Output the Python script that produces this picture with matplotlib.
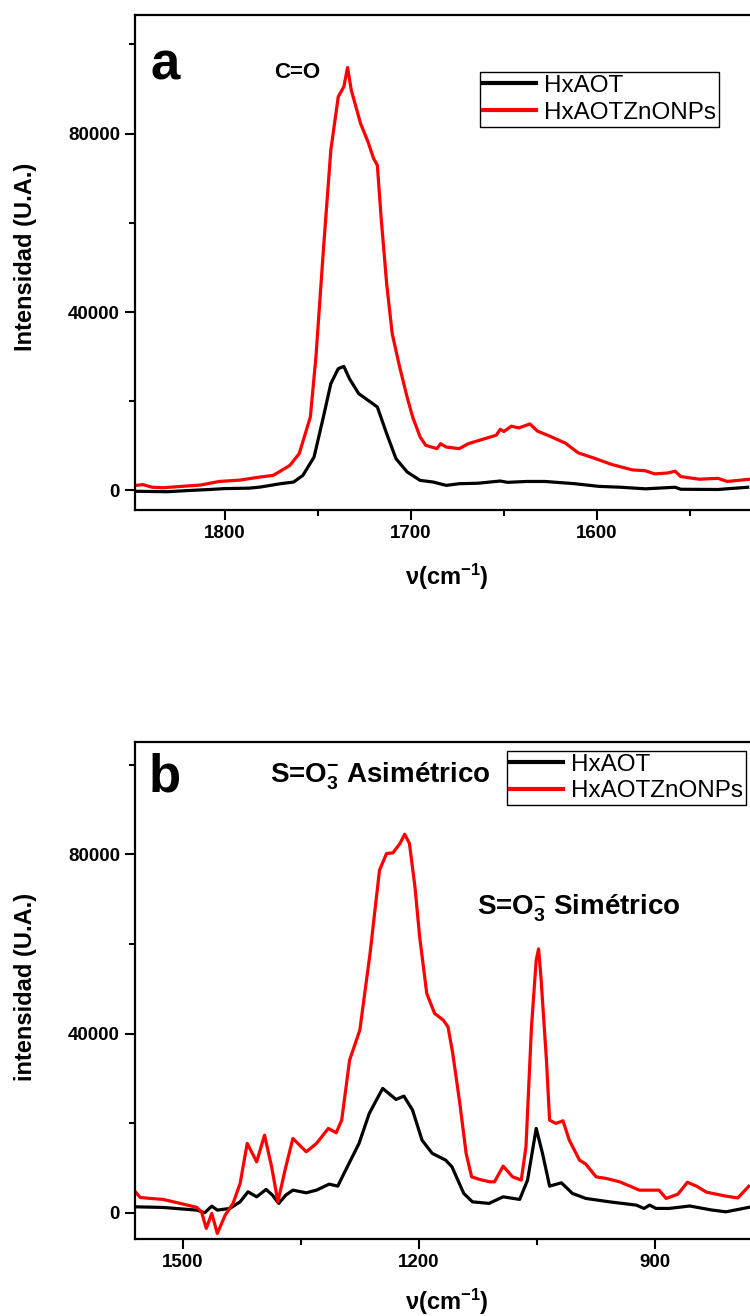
import matplotlib

matplotlib.use("Agg")
import matplotlib.pyplot as plt
from matplotlib.ticker import MultipleLocator

plt.rcParams["font.family"] = ["Liberation Sans", "DejaVu Sans"]
plt.rcParams["mathtext.fontset"] = "custom"
plt.rcParams["mathtext.rm"] = "Liberation Sans:bold"
plt.rcParams["mathtext.bf"] = "Liberation Sans:bold"
plt.rcParams["mathtext.it"] = "Liberation Sans:bold"

# panel a, C=O region (wavenumber, intensity)
a_black_x = [1848, 1831, 1818, 1808, 1800, 1787, 1781, 1770, 1763, 1758, 1752, 1747, 1743, 1739,
             1736, 1733, 1728, 1723, 1718, 1713, 1708, 1702, 1695, 1688, 1681, 1674,
             1664, 1652, 1648, 1638, 1628, 1612, 1599, 1587, 1574, 1558, 1555, 1535, 1519]
a_black_y = [-200, -300, 0, 200, 400, 500, 740, 1500, 1870, 3370, 7480, 16450, 23930, 27300,
             27810, 25050, 21690, 20200, 18700, 12730, 7120, 4130, 2240, 1870, 1120, 1500,
             1600, 2100, 1800, 2000, 2000, 1500, 900, 700, 350, 700, 250, 200, 700]

a_red_x = [1848, 1844, 1839, 1833, 1823, 1813, 1803, 1792, 1781, 1774, 1770, 1765, 1760, 1754,
           1751, 1747, 1743, 1739, 1736, 1734, 1732, 1727, 1723, 1720, 1718, 1716, 1713, 1710,
           1706, 1702, 1699, 1695, 1692, 1686, 1684, 1681, 1674, 1669, 1661, 1654, 1652,
           1650, 1646, 1642, 1636, 1632, 1625, 1617, 1610, 1602, 1592, 1581, 1574, 1569, 1562,
           1558, 1555, 1545, 1535, 1530, 1518]
a_red_y = [1100, 1300, 700, 600, 900, 1200, 2000, 2300, 2990, 3370, 4340, 5610, 8230, 16450,
           29920, 53870, 76310, 88290, 90530, 94840, 89740, 82260, 78140, 74410, 72910, 61300, 46350, 35120,
           27640, 20910, 16420, 11960, 10100, 9360, 10470, 9720, 9360, 10500, 11500, 12400, 13700,
           13200, 14400, 14000, 14900, 13300, 12100, 10600, 8400, 7300, 5800, 4600, 4400, 3700, 3900,
           4300, 3100, 2500, 2700, 2000, 2500]

# panel b, S=O3- region
b_black_x = [1560, 1525, 1482, 1472, 1463, 1456, 1440, 1427, 1417, 1406, 1394, 1386, 1378, 1369,
             1360, 1343, 1330, 1314, 1303, 1293, 1276, 1263, 1246, 1229, 1219, 1208, 1196, 1183,
             1166, 1158, 1143, 1132, 1111, 1093, 1072, 1062, 1051, 1043, 1034, 1019, 1005, 988,
             958, 924, 914, 907, 899, 882, 856, 828, 810, 781]
b_black_y = [1320, 1180, 580, 0, 1470, 580, 960, 2430, 4670, 3550, 5200, 3930, 2080, 3930,
             5040, 4450, 5040, 6380, 5940, 9510, 15470, 22170, 27750, 25290, 26030, 22900, 16200, 13240,
             11740, 10250, 4310, 2430, 2080, 3550, 2970, 7280, 18820, 13240, 5940, 6680, 4310, 3190,
             2430, 1700, 960, 1700, 960, 960, 1500, 600, 200, 1200]

b_red_x = [1560, 1554, 1541, 1525, 1503, 1482, 1476, 1470, 1463, 1456, 1446, 1436, 1427, 1418,
           1406, 1396, 1387, 1379, 1370, 1360, 1343, 1330, 1315, 1305, 1298, 1288, 1275, 1262,
           1250, 1241, 1233, 1224, 1218, 1212, 1205, 1199, 1190, 1180, 1169, 1163, 1157, 1148,
           1140, 1133, 1123, 1110, 1104, 1093, 1081, 1070, 1064, 1057, 1051, 1048, 1045, 1038,
           1034, 1026, 1017, 1009, 996, 988, 975, 962, 945, 920, 895, 886, 871, 859,
           847, 835, 810, 795, 781]
b_red_y = [4670, 3410, 3190, 2970, 2080, 1180, 200, -3500, -160, -4620, -540, 2080, 6540, 15470,
           11370, 17320, 10250, 2430, 9510, 16580, 13600, 15470, 18820, 17840, 20670, 34060, 40760, 57880,
           76470, 80200, 80340, 82430, 84500, 82430, 72750, 61580, 48950, 44490, 42990, 41500, 35560, 24400,
           13240, 8010, 7430, 6900, 6900, 10400, 8010, 7280, 14710, 41500, 56380, 58900, 52650, 34060,
           20670, 19930, 20520, 16200, 11740, 10850, 8010, 7650, 6900, 5040, 5040, 3190, 4150, 6800,
           5900, 4600, 3700, 3300, 5900]

series_names = ["HxAOT", "HxAOTZnONPs"]
series_colors = ["black", "#ff0000"]

W, H = 750, 1316
fig = plt.figure(figsize=(W / 100, H / 100), dpi=100)


def px_box(left, top, right, bottom):
    return [left / W, 1 - bottom / H, (right - left) / W, (bottom - top) / H]


def style_axes(ax, xmajor, ylim):
    for side in ["left", "bottom", "top", "right"]:
        ax.spines[side].set_linewidth(1.6)
    ax.xaxis.set_major_locator(MultipleLocator(xmajor))
    ax.xaxis.set_minor_locator(MultipleLocator(xmajor / 2))
    ax.yaxis.set_major_locator(MultipleLocator(40000))
    ax.yaxis.set_minor_locator(MultipleLocator(20000))
    ax.tick_params(which="major", direction="out", length=7, width=1.5, labelsize=13.5, pad=4,
                   top=False, right=False)
    ax.tick_params(which="minor", direction="out", length=4.5, width=1.5, top=False, right=False)
    for lab in ax.get_xticklabels() + ax.get_yticklabels():
        lab.set_fontweight("bold")
    ax.set_ylim(*ylim)


ax_a = fig.add_axes(px_box(135.4, 14.6, 760, 510))
ax_a.plot(a_black_x, a_black_y, color=series_colors[0], lw=2.3, label=series_names[0])
ax_a.plot(a_red_x, a_red_y, color=series_colors[1], lw=2.3, label=series_names[1])
ax_a.set_xlim(1848, 1512.4)
style_axes(ax_a, 100, (-4400, 106700))

ax_b = fig.add_axes(px_box(135.4, 741.5, 760, 1238.7))
ax_b.plot(b_black_x, b_black_y, color=series_colors[0], lw=2.3, label=series_names[0])
ax_b.plot(b_red_x, b_red_y, color=series_colors[1], lw=2.3, label=series_names[1])
ax_b.set_xlim(1560, 766.8)
style_axes(ax_b, 300, (-5800, 105200))


def add_legend(ax, left, top):
    leg = ax.legend(loc="upper left", bbox_to_anchor=(left / W, 1 - top / H),
                    bbox_transform=fig.transFigure, fontsize=17.5, handlelength=2.2,
                    handletextpad=0.3, labelspacing=0.2, borderpad=0.12, borderaxespad=0,
                    fancybox=False, framealpha=1)
    leg.get_frame().set_edgecolor("black")
    leg.get_frame().set_linewidth(1.0)
    for line in leg.get_lines():
        line.set_linewidth(3)


add_legend(ax_a, 480, 72)
add_legend(ax_b, 507, 750.6)


def ftext(x, y, s, **kw):
    fig.text(x / W, 1 - y / H, s, **kw)


ftext(165, 65, "a", fontsize=38, fontweight="bold", ha="center", va="center")
ftext(165, 777, "b", fontsize=38, fontweight="bold", ha="center", va="center")
ftext(274, 78, "C=O", fontsize=16, fontweight="bold", ha="left", va="baseline")
ftext(270, 783, r"S=O$_\mathbf{3}^\mathbf{-}$ Asimétrico", fontsize=20, fontweight="bold",
      ha="left", va="baseline")
ftext(477, 914, r"S=O$_\mathbf{3}^\mathbf{-}$ Simétrico", fontsize=20, fontweight="bold",
      ha="left", va="baseline")

ftext(26, 257, "Intensidad (U.A.)", fontsize=17, fontweight="bold", rotation=90,
      ha="center", va="center")
ftext(26, 987, "intensidad (U.A.)", fontsize=17, fontweight="bold", rotation=90,
      ha="center", va="center")
ftext(447, 577, r"ν(cm$^\mathbf{-1}$)", fontsize=17, fontweight="bold", ha="center", va="center")
ftext(447, 1302, r"ν(cm$^\mathbf{-1}$)", fontsize=17, fontweight="bold", ha="center", va="center")

fig.savefig("out.png", dpi=100)
